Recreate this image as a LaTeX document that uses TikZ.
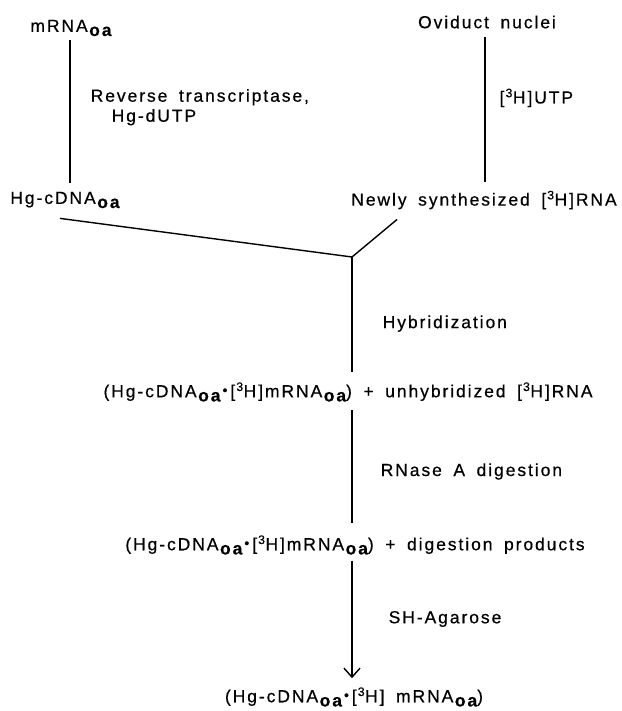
\documentclass[tikz,border=0pt]{standalone}
\usepackage{graphicx}
\usepackage{fontspec}
\setmainfont{Liberation Sans}[LetterSpace=11,WordSpace=1.7,FakeBold=0.5]
\usetikzlibrary{arrows.meta}
\newcommand{\oa}{\hspace{1.5pt}\raisebox{-0.45ex}{\bfseries oa}}
\newcommand{\tr}{[\hspace{1pt}\textsuperscript{3}H]}
\newcommand{\hbdot}{\hspace{2pt}\raisebox{0.25ex}{\scalebox{0.8}{\textbullet}}\hspace{3pt}}
\tikzstyle{chem} = [inner sep=2pt, font=\fontsize{17.5}{20}\selectfont]
\tikzstyle{reagent} = [inner sep=2pt, anchor=west, align=left, font=\fontsize{17.5}{20}\selectfont]
\tikzstyle{flow} = [line width=1.4pt]

\begin{document}
\begin{tikzpicture}[x=1pt, y=-1pt, >={Straight Barb[length=9pt,width=16pt,line width=1.4pt]}]
	\useasboundingbox (0,0) rectangle (621,711);
	\node [chem] (mrna) at (71,28) {mRNA\oa};
	\node [chem] (nuclei) at (487,22) {Oviduct nuclei};
	\node [chem] (cdna) at (65,200) {Hg-cDNA\oa};
	\node [chem] (newrna) at (484,200) {Newly synthesized \tr RNA};
	\coordinate (join) at (352,257);
	\node [chem] (hyb) at (348,392) {(Hg-cDNA\oa\hbdot\tr mRNA\oa) + unhybridized \tr RNA};
	\node [chem] (dig) at (355,545) {(Hg-cDNA\oa\hbdot\tr mRNA\oa) + digestion products};
	\node [chem] (pure) at (354,697) {(Hg-cDNA\oa\hbdot\tr\ mRNA\oa)};

	\draw [flow] (70,40) -- node [reagent, pos=0.47, xshift=18pt] {Reverse transcriptase,\\\hspace{1.2em}Hg-dUTP} (70,183);
	\draw [flow] (485,37) -- node [reagent, pos=0.42, xshift=12pt] {\tr UTP} (485,182);
	\draw [flow] ([shift={(-5,8)}]cdna.south) -- (join) -- ([shift={(48,8)}]newrna.south west);
	\draw [flow, shorten >=8pt] (join) -- node [reagent, xshift=28pt, yshift=-5pt] {Hybridization} (join |- hyb.north);
	\draw [flow, shorten <=6pt, shorten >=10pt] (hyb.south -| join) -- node [reagent, xshift=26pt, yshift=-3pt] {RNase A digestion} (dig.north -| join);
	\draw [flow, ->, shorten <=4pt, shorten >=7pt] (dig.south -| join) -- node [reagent, xshift=34pt, yshift=2pt] {SH-Agarose} (pure.north -| join);
\end{tikzpicture}
\end{document}
